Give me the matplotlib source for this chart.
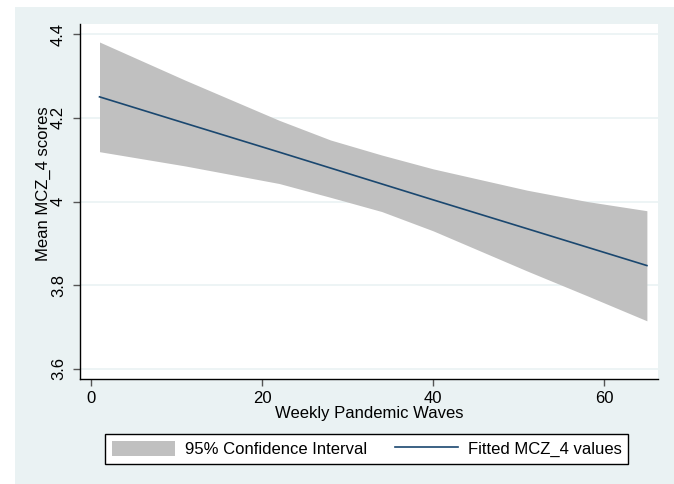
import matplotlib.pyplot as plt
from matplotlib.patches import Rectangle

plt.rcParams['font.family'] = ['Liberation Sans', 'DejaVu Sans']

# values
weeks = [1, 11, 22, 28, 34, 40, 51, 58, 65]
fitted = [4.250, 4.187, 4.118, 4.080, 4.042, 4.004, 3.935, 3.891, 3.847]
ci_upper = [4.381, 4.290, 4.194, 4.147, 4.111, 4.078, 4.027, 4.000, 3.978]
ci_lower = [4.119, 4.085, 4.043, 4.010, 3.976, 3.930, 3.834, 3.775, 3.715]
y_ticks = [3.6, 3.8, 4.0, 4.2, 4.4]
y_labels = ["3.6", "3.8", "4", "4.2", "4.4"]
x_ticks = [0, 20, 40, 60]

bg = "#EAF2F3"
navy = "#1A476F"
fs = 12

fig = plt.figure(figsize=(6.74, 4.84), dpi=100, facecolor="white")
# Stata-style outer region
fig.patches.append(Rectangle((15 / 674, -0.01), 1.0, 1.01 - 7 / 484, transform=fig.transFigure,
                             facecolor=bg, edgecolor="none", zorder=-10))

ax = fig.add_axes([80 / 674, 1 - 379 / 484, 578 / 674, 355 / 484])
ax.set_facecolor("white")

ci = ax.fill_between(weeks, ci_lower, ci_upper, color="#C0C0C0", linewidth=0,
                     label="95% Confidence Interval")
line, = ax.plot(weeks, fitted, color=navy, linewidth=1.2, label="Fitted MCZ_4 values")

ax.set_xlim(-1.28, 66.3)
ax.set_ylim(3.576, 4.424)
ax.set_yticks(y_ticks, labels=y_labels, rotation=90, va="center")
ax.set_xticks(x_ticks)
ax.grid(axis="y", color=bg, linewidth=1.2)
ax.set_axisbelow(True)

for side in ["top", "right"]:
    ax.spines[side].set_visible(False)
ax.spines["left"].set_linewidth(1.0)
ax.spines["bottom"].set_linewidth(1.0)
ax.tick_params(axis="both", labelsize=fs, length=5, width=1, color="#555555")
ax.tick_params(axis="y", pad=5)

ax.set_xlabel("Weekly Pandemic Waves", fontsize=fs, labelpad=0)
ax.set_ylabel("Mean MCZ_4 scores", fontsize=fs)
ax.yaxis.set_label_coords(-0.050, 0.549)

fig.legend(handles=[ci, line], loc="center", bbox_to_anchor=(366.5 / 674, 1 - 449 / 484),
           ncol=2, fontsize=fs, frameon=True, fancybox=False, edgecolor="black",
           framealpha=1, handlelength=3.78, handleheight=1.0, handletextpad=0.6,
           columnspacing=1.68, borderpad=0.4)

fig.savefig("out.png", dpi=100)
